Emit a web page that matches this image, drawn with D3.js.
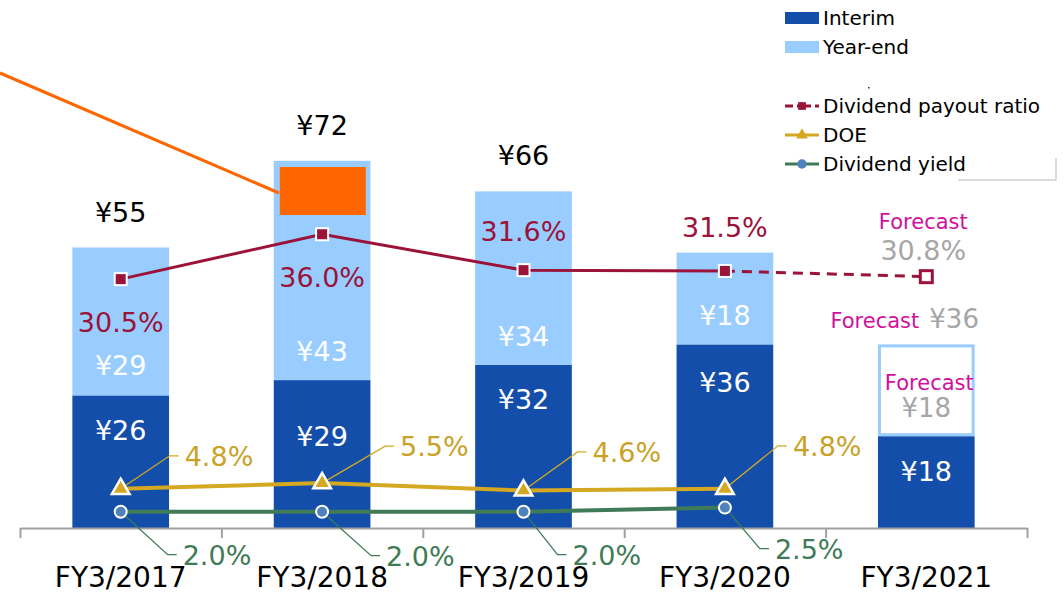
<!DOCTYPE html>
<html>
<head>
<meta charset="utf-8">
<script src="https://cdn.jsdelivr.net/npm/d3@7"></script>
<style>
  body { margin: 0; background: #fff; }
  svg { display: block; font-family: "DejaVu Sans", Verdana, sans-serif; }
</style>
</head>
<body>
<svg width="1064" height="593"></svg>
<script>
let categories = ["FY3/2017", "FY3/2018", "FY3/2019", "FY3/2020", "FY3/2021"];
let interim = [26, 29, 32, 36, 18];
let yearEnd = [29, 43, 34, 18, 18];   // last one is forecast
let totals = [55, 72, 66, 54, 36];
let payout = [30.5, 36.0, 31.6, 31.5, 30.8]; // last one is forecast
let doe = [4.8, 5.5, 4.6, 4.8];
let divYield = [2.0, 2.0, 2.0, 2.5];

let C = {
  interim: "#144eab",
  yearEnd: "#99ccff",
  payout: "#9b1339",
  doe: "#d4a820",
  doeText: "#c9a227",
  yld: "#3f7b57",
  yldDot: "#4f81bd",
  fc: "#d10f9f",
  grey: "#a6a6a6",
  orange: "#ff6600"
};

let svg = d3.select("svg");
let baseY = 528;

let x = d3.scaleBand().domain(categories).range([20, 1027]).paddingInner(0.52).paddingOuter(0.26);
let y = d3.scaleLinear().domain([0, 80]).range([baseY, baseY - 80 * 5.1]);
let yp = d3.scaleLinear().domain([0, 40]).range([baseY, baseY - 40 * 8.16]);
let cx = (d, i) => x(categories[i]) + x.bandwidth() / 2;

// bars
let bars = svg.append("g");
bars.selectAll("rect.int").data(interim).enter().append("rect")
  .attr("x", (d, i) => x(categories[i]))
  .attr("width", x.bandwidth())
  .attr("y", d => y(d))
  .attr("height", d => baseY - y(d))
  .attr("fill", C.interim);

bars.selectAll("rect.ye").data(yearEnd).enter().append("rect")
  .attr("x", (d, i) => x(categories[i]) + (i == 4 ? 1.5 : 0))
  .attr("width", (d, i) => x.bandwidth() - (i == 4 ? 3 : 0))
  .attr("y", (d, i) => y(interim[i] + d) + (i == 4 ? 1.5 : 0))
  .attr("height", (d, i) => y(interim[i]) - y(interim[i] + d) - (i == 4 ? 3 : 0))
  .attr("fill", (d, i) => i == 4 ? "#fff" : C.yearEnd)
  .attr("stroke", (d, i) => i == 4 ? C.yearEnd : "none")
  .attr("stroke-width", 3);

// axis at category boundaries
let xb = d3.scaleLinear().domain([0, 5]).range([20, 1027]);
let axis = svg.append("g").attr("transform", `translate(0,${baseY})`)
  .call(d3.axisBottom(xb).ticks(5).tickSize(10).tickSizeOuter(0).tickFormat(""));
axis.selectAll("path, line").attr("stroke", "#a0a0a0").attr("stroke-width", 2);

svg.append("g").selectAll("text").data(categories).enter().append("text")
  .attr("x", (d, i) => cx(d, i))
  .attr("y", 587)
  .attr("text-anchor", "middle")
  .attr("font-size", 28)
  .attr("fill", "#000")
  .text(d => d);

// bar value labels
let big = 27;
let lab = svg.append("g").attr("font-size", big).attr("text-anchor", "middle");
let intBase = [440, 446, 409, 392, 481];
lab.selectAll("text.i").data(interim).enter().append("text")
  .attr("x", cx).attr("y", (d, i) => intBase[i])
  .attr("fill", "#fff").text(d => "¥" + d);

let yeBase = [375, 361, 346, 325];
lab.selectAll("text.y").data(yearEnd.slice(0, 4)).enter().append("text")
  .attr("x", cx).attr("y", (d, i) => yeBase[i])
  .attr("fill", "#fff").text(d => "¥" + d);

lab.selectAll("text.t").data(totals.slice(0, 3)).enter().append("text")
  .attr("x", cx).attr("y", d => y(d) - 26)
  .attr("fill", "#000").text(d => "¥" + d);

// forecast texts for FY3/2021
let fx = cx(0, 4);
lab.append("text").attr("x", fx + 3).attr("y", 390).attr("font-size", 21).attr("fill", C.fc).text("Forecast");
lab.append("text").attr("x", fx).attr("y", 417).attr("font-size", 26).attr("fill", C.grey).text("¥" + yearEnd[4]);
lab.append("text").attr("x", fx - 7).attr("y", 328).attr("text-anchor", "end").attr("font-size", 21).attr("fill", C.fc).text("Forecast");
lab.append("text").attr("x", fx + 3).attr("y", 328).attr("text-anchor", "start").attr("font-size", 26).attr("fill", C.grey).text("¥" + totals[4]);

// orange annotation
svg.append("line").attr("x1", 0).attr("y1", 73).attr("x2", 279).attr("y2", 193)
  .attr("stroke", C.orange).attr("stroke-width", 3);
svg.append("rect").attr("x", x(categories[1]) + 6).attr("y", 167).attr("width", 86).attr("height", 48).attr("fill", C.orange);

// yield line
svg.append("path").datum(divYield)
  .attr("d", d3.line().x((d, i) => cx(d, i)).y(d => yp(d)))
  .attr("fill", "none").attr("stroke", C.yld).attr("stroke-width", 4);
// DOE line
svg.append("path").datum(doe)
  .attr("d", d3.line().x((d, i) => cx(d, i)).y(d => yp(d)))
  .attr("fill", "none").attr("stroke", C.doe).attr("stroke-width", 4);
// payout lines
svg.append("path").datum(payout.slice(0, 4))
  .attr("d", d3.line().x((d, i) => cx(d, i)).y(d => yp(d)))
  .attr("fill", "none").attr("stroke", C.payout).attr("stroke-width", 3);
svg.append("path").datum(payout.slice(3))
  .attr("d", d3.line().x((d, i) => cx(d, i + 3)).y(d => yp(d)))
  .attr("fill", "none").attr("stroke", C.payout).attr("stroke-width", 3)
  .attr("stroke-dasharray", "10,7");

// leader lines + labels
let doeOff = [[64, -23], [78, -27], [69, -28.5], [68, -33]];
let yldOff = [[62, 53], [64, 54], [49, 53], [50, 51]];
function leaders(data, off, col, txtCol) {
  let g = svg.append("g");
  data.forEach((d, i) => {
    let px = cx(d, i), py = yp(d);
    let tx = px + off[i][0], ty = py + off[i][1];
    let my = ty - 10;
    g.append("polyline")
      .attr("points", `${px},${py} ${tx - 15},${my} ${tx - 6},${my}`)
      .attr("fill", "none").attr("stroke", col).attr("stroke-width", 1.3);
    g.append("text").attr("x", tx).attr("y", ty).attr("font-size", big)
      .attr("fill", txtCol).text(d.toFixed(1) + "%");
  });
}
leaders(doe, doeOff, C.doe, C.doeText);
leaders(divYield, yldOff, C.yld, C.yld);

// markers
svg.append("g").selectAll("path").data(divYield).enter().append("path")
  .attr("transform", (d, i) => `translate(${cx(d, i)},${yp(d)})`)
  .attr("d", d3.symbol(d3.symbolCircle, 113))
  .attr("fill", C.yldDot).attr("stroke", "#fff").attr("stroke-width", 2);
svg.append("g").selectAll("path").data(doe).enter().append("path")
  .attr("transform", (d, i) => `translate(${cx(d, i)},${yp(d)})`)
  .attr("d", d3.symbol(d3.symbolTriangle, 135))
  .attr("fill", C.doe).attr("stroke", "#fff").attr("stroke-width", 2.5);
svg.append("g").selectAll("rect").data(payout).enter().append("rect")
  .attr("x", (d, i) => cx(d, i) - 6).attr("y", d => yp(d) - 6)
  .attr("width", 12).attr("height", 12)
  .attr("fill", (d, i) => i == 4 ? "#fff" : C.payout)
  .attr("stroke", (d, i) => i == 4 ? C.payout : "#fff")
  .attr("stroke-width", (d, i) => i == 4 ? 3 : 2);

// payout labels
let payDy = [53, 53, -29, -34];
svg.append("g").attr("font-size", big).attr("text-anchor", "middle")
  .selectAll("text").data(payout.slice(0, 4)).enter().append("text")
  .attr("x", cx).attr("y", (d, i) => yp(d) + payDy[i])
  .attr("fill", C.payout).text(d => d.toFixed(1) + "%");
svg.append("text").attr("x", fx - 3).attr("y", 229).attr("text-anchor", "middle")
  .attr("font-size", 21).attr("fill", C.fc).text("Forecast");
svg.append("text").attr("x", fx - 3).attr("y", yp(payout[4]) - 17).attr("text-anchor", "middle")
  .attr("font-size", big).attr("fill", C.grey).text(payout[4].toFixed(1) + "%");

// legend
let leg = svg.append("g").attr("font-size", 20).attr("fill", "#000");
let boxes = [["Interim", C.interim, 18], ["Year-end", C.yearEnd, 47]];
boxes.forEach(b => {
  leg.append("rect").attr("x", 785).attr("y", b[2] - 6).attr("width", 34).attr("height", 12).attr("fill", b[1]);
  leg.append("text").attr("x", 823).attr("y", b[2] + 7).text(b[0]);
});
leg.append("rect").attr("x", 868).attr("y", 87).attr("width", 1.5).attr("height", 1.5).attr("fill", "#333");
let lines = [["Dividend payout ratio", C.payout, 106], ["DOE", C.doe, 135], ["Dividend yield", C.yld, 164]];
lines.forEach((l, k) => {
  leg.append("line").attr("x1", 785).attr("x2", 819).attr("y1", l[2]).attr("y2", l[2])
    .attr("stroke", l[1]).attr("stroke-width", 3).attr("stroke-dasharray", k == 0 ? "8,4,14,4,8" : null);
  let sym = k == 0 ? d3.symbolSquare : k == 1 ? d3.symbolTriangle : d3.symbolCircle;
  leg.append("path").attr("transform", `translate(802,${l[2]})`)
    .attr("d", d3.symbol(sym, k == 2 ? 70 : 60))
    .attr("fill", k == 2 ? C.yldDot : l[1]);
  leg.append("text").attr("x", 823).attr("y", l[2] + 7).text(l[0]);
});
leg.append("polyline").attr("points", "958,180 1056,180 1056,158")
  .attr("fill", "none").attr("stroke", "#d0d0d0").attr("stroke-width", 1.5);
</script>
</body>
</html>
